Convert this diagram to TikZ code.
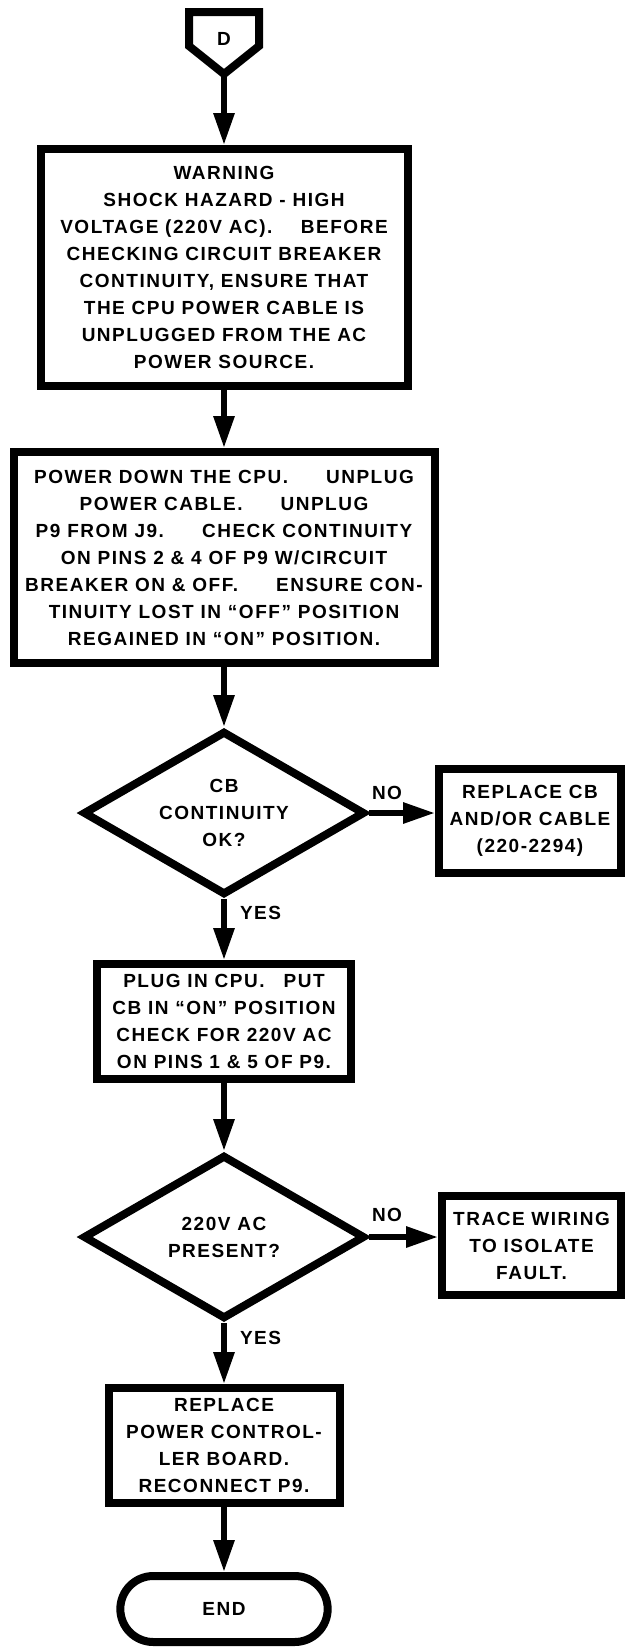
\documentclass[tikz,border=0pt]{standalone}
\usepackage{fontspec}
\setsansfont{Liberation Sans}[LetterSpace=8]
\usetikzlibrary{arrows.meta, positioning, shapes.geometric, shapes.misc}

\begin{document}
\begin{tikzpicture}[x=1pt, y=-1pt,
		font=\sffamily\bfseries\fontsize{19}{27}\selectfont,
		box/.style={draw, line width=8pt, rectangle, align=center, inner sep=0pt},
		decision/.style={draw, line width=8pt, diamond, aspect=1.7, align=center, inner sep=0pt, minimum width=282pt, minimum height=164pt},
		flow/.style={line width=6pt, -{Triangle[length=32pt, width=20pt]}},
		lbl/.style={inner sep=0pt}]
		\useasboundingbox (0,0) rectangle (626,1647);

		% off-page connector
		\node (conn) at (224, 39) {D};
		\draw [line width=8pt] (189,12) -- (259,12) -- (259,46) -- (224,74) -- (189,46) -- cycle;
		\coordinate (conntip) at (224, 74);

		% warning
		\node (warn) at (224, 267.5) [box, minimum width=367pt, minimum height=237pt] {WARNING\\SHOCK HAZARD - HIGH\\VOLTAGE (220V AC).\hspace{1.5em}BEFORE\\CHECKING CIRCUIT BREAKER\\CONTINUITY, ENSURE THAT\\THE CPU POWER CABLE IS\\UNPLUGGED FROM THE AC\\POWER SOURCE.};
		\draw [flow] (conntip) -- (warn.north);

		% continuity check
		\node (power) at (224, 557.5) [box, minimum width=421pt, minimum height=211pt] {POWER DOWN THE CPU.\qquad UNPLUG\\POWER CABLE.\qquad UNPLUG\\P9 FROM J9.\qquad CHECK CONTINUITY\\ON PINS 2 \& 4 OF P9 W/CIRCUIT\\BREAKER ON \& OFF.\qquad ENSURE CON-\\TINUITY LOST IN “OFF” POSITION\\REGAINED IN “ON” POSITION.};
		\draw [flow] (warn.south) -- (power.north);

		% first decision
		\node (cbok) at (224, 813) [decision] {CB\\CONTINUITY\\OK?};
		\draw [flow] (power.south) -- (cbok.north);

		\node (replcb) at (530, 821) [box, minimum width=182pt, minimum height=104pt] {REPLACE CB\\AND/OR CABLE\\(220-2294)};
		\draw [flow] (cbok.east) -- (cbok.east -| replcb.west) node (no1) [lbl, pos=0, above right=10pt and 0pt] {NO};

		% voltage check
		\node (plug) at (224, 1021.5) [box, minimum width=254pt, minimum height=115pt] {PLUG IN CPU.\quad PUT\\CB IN “ON” POSITION\\CHECK FOR 220V AC\\ON PINS 1 \& 5 OF P9.};
		\draw [flow] (cbok.south) -- (plug.north) node (yes1) [lbl, pos=0, below right=4pt and 13pt] {YES};

		% second decision
		\node (acok) at (224, 1237) [decision] {220V AC\\PRESENT?};
		\draw [flow] (plug.south) -- (acok.north);

		\node (trace) at (531.5, 1245.5) [box, minimum width=179pt, minimum height=99pt] {TRACE WIRING\\TO ISOLATE\\FAULT.};
		\draw [flow] (acok.east) -- (acok.east -| trace.west) node (no2) [lbl, pos=0, above right=12pt and 0pt] {NO};

		% replace board
		\node (repl) at (224, 1445.5) [box, minimum width=231pt, minimum height=115pt] {REPLACE\\POWER CONTROL-\\LER BOARD.\\RECONNECT P9.};
		\draw [flow] (acok.south) -- (repl.north) node (yes2) [lbl, pos=0, below right=5pt and 13pt] {YES};

		% terminal
		\node (stop) at (224, 1609) [draw, line width=8pt, rounded rectangle, minimum width=214pt, minimum height=66pt] {END};
		\draw [flow] (repl.south) -- (stop.north);
	\end{tikzpicture}
\end{document}
